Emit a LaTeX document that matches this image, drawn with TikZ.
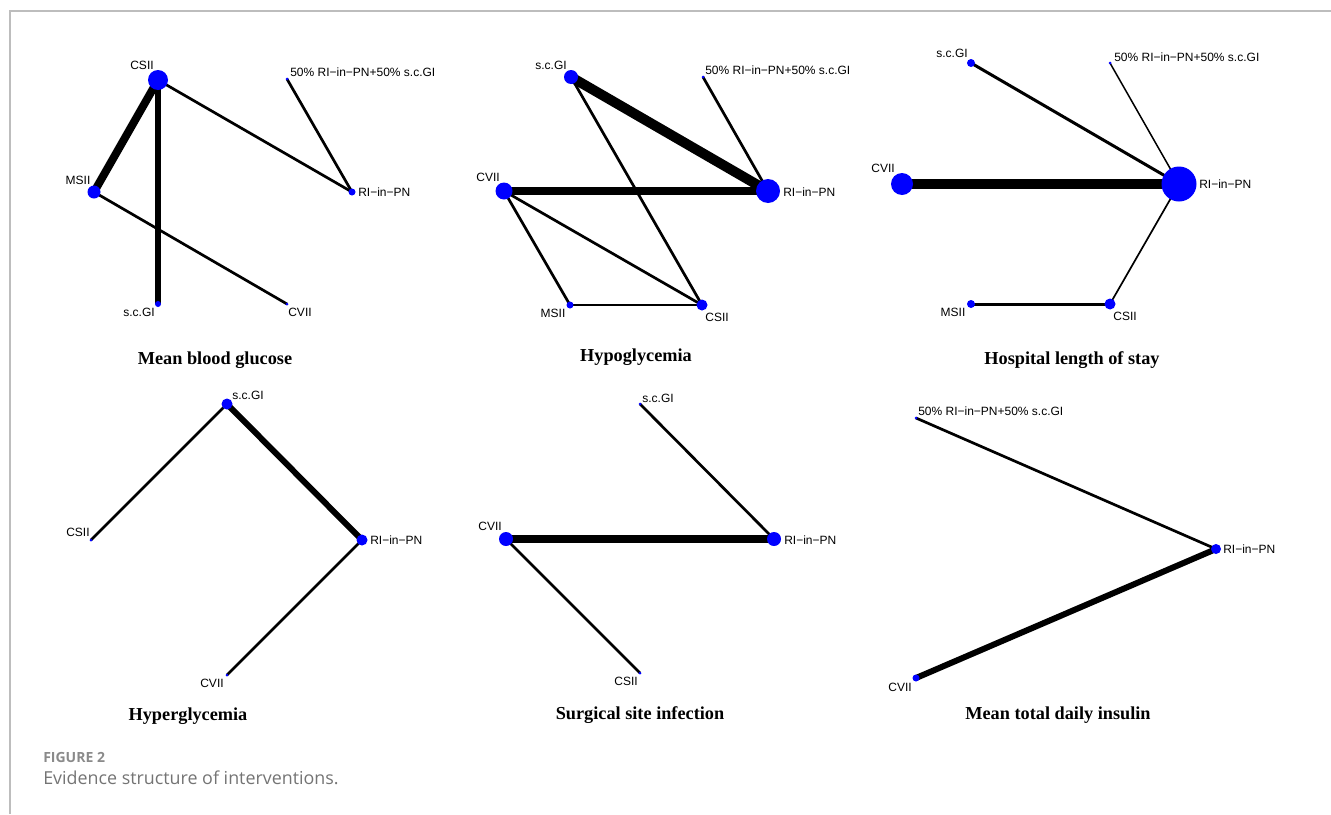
\documentclass[tikz,border=0pt]{standalone}
\usepackage{fontspec}
\setmainfont{Liberation Serif}
\setsansfont{Liberation Sans}
\newfontfamily\capfont{Open Sans}
\usetikzlibrary{backgrounds}
\definecolor{NetBlue}{HTML}{0000FF}
\definecolor{NetInk}{HTML}{000000}
\definecolor{NetFrame}{HTML}{BDBDBD}
\definecolor{NetCaption}{HTML}{747474}
\definecolor{NetCapHead}{HTML}{8A8A8A}
\tikzset{
  net/vertex/.style={
    circle, fill=NetBlue, draw=none, inner sep=0pt,
    minimum size=#1*0.75pt
  },
  net/edge/.style={draw=NetInk, line width=#1*0.75pt},
  net/label/.style={font=\sffamily\fontsize{9}{10}\selectfont, inner sep=0pt},
  net/title/.style={font=\rmfamily\bfseries\fontsize{13.7}{15}\selectfont,
    inner sep=0pt, anchor=base}
}

\begin{document}
\begin{tikzpicture}[x=0.75pt,y=-0.75pt]
  \useasboundingbox (0,0) rectangle (1331,814);
  \draw[NetFrame,line width=0.9pt] (10,814) -- (10,11) -- (1331,11);

  % a: mean blood glucose
  \node[net/vertex=20] (a-csii) at (158,80) {};
  \node[net/vertex=13] (a-msii) at (94,192) {};
  \node[net/vertex=7] (a-ri) at (352,192) {};
  \node[net/vertex=3] (a-mix) at (287,79) {};
  \node[net/vertex=6] (a-scgi) at (158,304) {};
  \node[net/vertex=3] (a-cvii) at (287,304) {};
  \node[net/label] (a-csii-l) at (142,65) {CSII};
  \node[net/label,anchor=west] (a-mix-l) at (290,72) {50\% RI−in−PN+50\% s.c.GI};
  \node[net/label] (a-msii-l) at (78,180) {MSII};
  \node[net/label,anchor=west] (a-ri-l) at (358,192) {RI−in−PN};
  \node[net/label] (a-scgi-l) at (139,312) {s.c.GI};
  \node[net/label] (a-cvii-l) at (300,312) {CVII};
  \node[net/title] (a-title) at (215,364) {Mean blood glucose};

  % b: hypoglycemia
  \node[net/vertex=14] (b-scgi) at (571,77) {};
  \node[net/vertex=3] (b-mix) at (703,77) {};
  \node[net/vertex=17] (b-cvii) at (504,191) {};
  \node[net/vertex=24] (b-ri) at (768,191) {};
  \node[net/vertex=7] (b-msii) at (570,305) {};
  \node[net/vertex=11] (b-csii) at (702,305) {};
  \node[net/label] (b-scgi-l) at (551,65) {s.c.GI};
  \node[net/label,anchor=west] (b-mix-l) at (705,70) {50\% RI−in−PN+50\% s.c.GI};
  \node[net/label] (b-cvii-l) at (488,177) {CVII};
  \node[net/label,anchor=west] (b-ri-l) at (783,192) {RI−in−PN};
  \node[net/label] (b-msii-l) at (553,313) {MSII};
  \node[net/label] (b-csii-l) at (717,317) {CSII};
  \node[net/title] (b-title) at (636,361) {Hypoglycemia};

  % c: hospital length of stay
  \node[net/vertex=8] (c-scgi) at (971,63) {};
  \node[net/vertex=3] (c-mix) at (1110,63) {};
  \node[net/vertex=22] (c-cvii) at (902,184) {};
  \node[net/vertex=35] (c-ri) at (1179,184) {};
  \node[net/vertex=8] (c-msii) at (971,304) {};
  \node[net/vertex=11] (c-csii) at (1110,304) {};
  \node[net/label] (c-scgi-l) at (952,53) {s.c.GI};
  \node[net/label,anchor=west] (c-mix-l) at (1114,57) {50\% RI−in−PN+50\% s.c.GI};
  \node[net/label] (c-cvii-l) at (883,168) {CVII};
  \node[net/label,anchor=west] (c-ri-l) at (1199,184) {RI−in−PN};
  \node[net/label] (c-msii-l) at (953,312) {MSII};
  \node[net/label] (c-csii-l) at (1125,316) {CSII};
  \node[net/title] (c-title) at (1072,364) {Hospital length of stay};

  % d: hyperglycemia
  \node[net/vertex=11] (d-scgi) at (227,404) {};
  \node[net/vertex=3] (d-csii) at (91,540) {};
  \node[net/vertex=11] (d-ri) at (362,540) {};
  \node[net/vertex=3] (d-cvii) at (227,675) {};
  \node[net/label] (d-scgi-l) at (248,395) {s.c.GI};
  \node[net/label] (d-csii-l) at (78,532) {CSII};
  \node[net/label,anchor=west] (d-ri-l) at (370,540) {RI−in−PN};
  \node[net/label] (d-cvii-l) at (212,683) {CVII};
  \node[net/title] (d-title) at (188,720) {Hyperglycemia};

  % e: surgical site infection
  \node[net/vertex=3] (e-scgi) at (640,404) {};
  \node[net/vertex=14] (e-cvii) at (506,539) {};
  \node[net/vertex=14] (e-ri) at (774,539) {};
  \node[net/vertex=3] (e-csii) at (640,673) {};
  \node[net/label] (e-scgi-l) at (658,398) {s.c.GI};
  \node[net/label] (e-cvii-l) at (490,526) {CVII};
  \node[net/label,anchor=west] (e-ri-l) at (784,540) {RI−in−PN};
  \node[net/label] (e-csii-l) at (626,681) {CSII};
  \node[net/title] (e-title) at (640,719) {Surgical site infection};

  % f: mean total daily insulin
  \node[net/vertex=3] (f-mix) at (916,418) {};
  \node[net/vertex=10] (f-ri) at (1216,549) {};
  \node[net/vertex=7] (f-cvii) at (916,678) {};
  \node[net/label,anchor=west] (f-mix-l) at (918,411) {50\% RI−in−PN+50\% s.c.GI};
  \node[net/label,anchor=west] (f-ri-l) at (1223,549) {RI−in−PN};
  \node[net/label] (f-cvii-l) at (900,687) {CVII};
  \node[net/title] (f-title) at (1058,719) {Mean total daily insulin};

  % edges, width in px
  \begin{scope}[on background layer]
    \foreach \a/\b/\w in {a-csii/a-msii/8, a-csii/a-scgi/6, a-csii/a-ri/2.7,
        a-mix/a-ri/2.7, a-msii/a-cvii/2.7,
        b-scgi/b-ri/10, b-cvii/b-ri/8, b-scgi/b-csii/2.7, b-mix/b-ri/2.7,
        b-cvii/b-msii/2.7, b-cvii/b-csii/2.7, b-msii/b-csii/2.7,
        c-scgi/c-ri/3, c-mix/c-ri/1.5, c-cvii/c-ri/10, c-ri/c-csii/1.7,
        c-msii/c-csii/3,
        d-scgi/d-ri/6, d-scgi/d-csii/2.7, d-ri/d-cvii/2.7,
        e-cvii/e-ri/8, e-scgi/e-ri/2.7, e-cvii/e-csii/2.7,
        f-mix/f-ri/2.7, f-cvii/f-ri/6}
      \draw[net/edge=\w] (\a.center) -- (\b.center);
  \end{scope}

  % caption
  \node[font=\capfont\bfseries\fontsize{10.5}{12}\selectfont,text=NetCapHead,
    anchor=base west,inner sep=0pt] (cap-head) at (43,762) {FIGURE 2};
  \node[font=\capfont\fontsize{13.4}{15}\selectfont,text=NetCaption,
    anchor=base west,inner sep=0pt] (cap-text) at (43,784)
    {Evidence structure of interventions.};
\end{tikzpicture}
\end{document}
